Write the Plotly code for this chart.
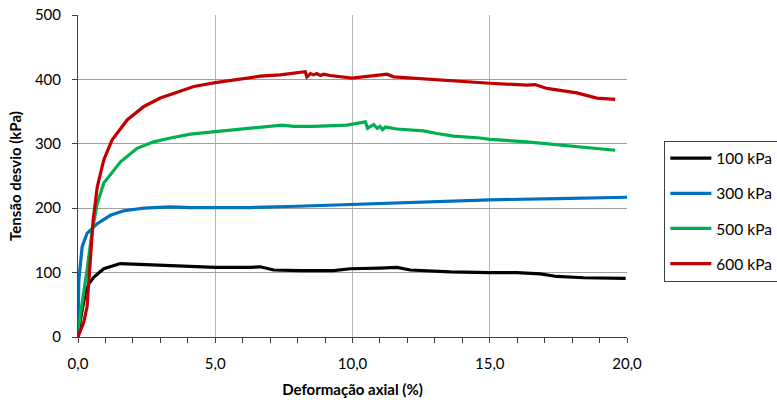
import plotly.graph_objects as go

# Curvas tensão desvio x deformação axial para quatro tensões confinantes
deform_100 = [0.0, 0.1, 0.25, 0.4, 0.58, 0.94, 1.54, 2.15, 3.0, 4.1, 5.0, 6.28, 6.64, 7.13, 8.1, 9.31,
              9.92, 11.0, 11.62, 12.1, 13.56, 15.0, 15.99, 16.84, 17.44, 18.41, 19.95]
tensao_100 = [0, 30, 65, 83, 93, 106, 114, 113, 111, 109, 108, 108, 109, 104, 103, 103,
              106, 107, 108, 104, 101, 100, 100, 98, 94, 92, 91]

deform_300 = [0.0, 0.03, 0.15, 0.33, 0.7, 1.18, 1.67, 2.4, 3.37, 4.1, 5.0, 6.28, 8.0, 9.92,
              12.0, 15.0, 17.5, 20.0]
tensao_300 = [0, 88, 140, 161, 176, 189, 196, 200, 202, 201, 201, 201, 203, 206,
              209, 213, 215, 217]

deform_500 = [0.0, 0.15, 0.33, 0.52, 0.7, 0.94, 1.55, 2.15, 2.76, 3.37, 4.1, 5.0, 6.64, 7.43,
              7.86, 8.58, 9.8, 10.47, 10.55, 10.77, 10.9, 11.0, 11.1, 11.2, 11.62, 12.59, 13.08,
              13.68, 14.65, 15.0, 16.35, 17.56, 18.17, 19.57]
tensao_500 = [10, 52, 104, 166, 207, 239, 272, 293, 303, 309, 315, 319, 326, 329,
              327, 327, 329, 334, 324, 330, 324, 327, 322, 326, 323, 320, 316,
              312, 309, 307, 303, 298, 295, 290]

deform_600 = [0.0, 0.21, 0.33, 0.46, 0.55, 0.7, 0.94, 1.24, 1.79, 2.4, 3.0, 4.22, 5.0, 6.64, 7.37,
              8.28, 8.34, 8.47, 8.58, 8.7, 8.83, 8.95, 9.19, 9.98, 10.77, 11.26, 11.5, 12.22,
              13.44, 14.65, 15.0, 16.35, 16.65, 17.08, 18.17, 18.9, 19.57]
tensao_600 = [0, 23, 47, 130, 181, 233, 275, 306, 337, 358, 371, 389, 395, 405, 407,
              412, 404, 409, 407, 409, 406, 408, 406, 402, 405, 408, 404, 402,
              398, 394, 394, 391, 392, 386, 379, 371, 369]

series = [
    ("100 kPa", deform_100, tensao_100, "#000000"),
    ("300 kPa", deform_300, tensao_300, "#0070C0"),
    ("500 kPa", deform_500, tensao_500, "#00B050"),
    ("600 kPa", deform_600, tensao_600, "#C00000"),
]

x_ticks = [0, 5, 10, 15, 20]
y_ticks = [0, 100, 200, 300, 400, 500]

FONT = "Lato, 'Open Sans', sans-serif"

fig = go.Figure()
for name, xs, ys, color in series:
    fig.add_trace(go.Scatter(
        x=xs, y=ys, name=name, mode="lines", legendgroup=name,
        line=dict(color=color, width=3.2),
    ))

fig.update_layout(
    width=777, height=400,
    margin=dict(l=77.5, r=149.5, t=15, b=63.3, autoexpand=False),
    paper_bgcolor="white", plot_bgcolor="white",
    separators=",.",
    font=dict(family=FONT, color="#000000", size=15),
    showlegend=True,
    legend=dict(
        x=1.068, y=0.61, xanchor="left", yanchor="top",
        bordercolor="#404040", borderwidth=1, bgcolor="white",
        font=dict(family=FONT, size=15.5, color="#000000"),
        traceorder="grouped", tracegroupgap=12,
        itemwidth=41,
    ),
    xaxis=dict(
        range=[0, 20], tickvals=x_ticks, tickformat=".1f",
        showgrid=True, gridcolor="#b4b4b4", gridwidth=1,
        showline=True, linecolor="#404040", linewidth=1,
        ticks="outside", ticklen=5, tickcolor="#404040",
        ticklabelstandoff=8,
        minor=dict(dtick=1, ticks="outside", ticklen=5, tickcolor="#404040", showgrid=False),
        zeroline=False,
        title=dict(text="<b>Deformação axial (%)</b>", font=dict(size=15), standoff=13),
    ),
    yaxis=dict(
        range=[0, 500], tickvals=y_ticks,
        showgrid=True, gridcolor="#a0a0a0", gridwidth=1,
        showline=True, linecolor="#404040", linewidth=1,
        ticks="outside", ticklen=5, tickcolor="#404040",
        ticklabelstandoff=8,
        zeroline=False,
        title=dict(text="<b>Tensão desvio (kPa)</b>", font=dict(size=15), standoff=9),
    ),
)

fig.write_html("out.html")
